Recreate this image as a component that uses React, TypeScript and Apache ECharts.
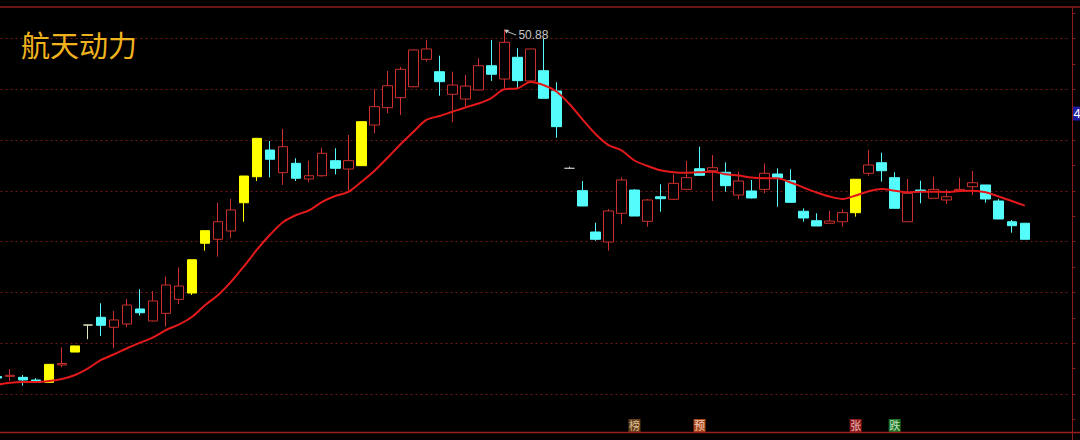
import React, { useEffect, useRef } from "react";
import * as echarts from "echarts";

// ---- Data ----
const opens = [
  16.72, 16.74, 16.64, 16.38, 16.15, 17.86, 19.13, 21.79, 22.55, 21.57,
  21.89, 23.37, 22.19, 22.94, 24.32, 24.94, 29.84, 30.23, 31.05, 33.83,
  36.39, 39.02, 36.79, 37.71, 36.17, 36.49, 37.97, 37.15, 37.48, 41.48,
  43.19, 44.17, 45.25, 47.95, 46.73, 44.51, 44.04, 44.93, 47.32, 46.01,
  48.15, 45.82, 46.83, 44.83, 37.22, 35.02, 30.95, 29.96, 32.79, 35.08,
  32.0, 34.42, 34.17, 35.15, 37.18, 36.98, 36.83, 34.59, 34.99, 35.15,
  36.66, 36.0, 32.99, 32.06, 31.81, 31.96, 32.85, 36.73, 37.77, 36.3,
  31.96, 35.08, 34.27, 34.1, 35.02, 35.41, 35.58, 34.0, 31.96, 31.81,
];
const closes = [
  16.57, 16.84, 16.38, 16.15, 17.92, 18.0, 19.73, 21.79, 21.76, 22.29,
  23.76, 23.0, 24.16, 25.73, 25.63, 28.22, 31.08, 31.96, 33.12, 36.46,
  40.17, 38.11, 39.35, 36.24, 36.49, 38.7, 37.22, 37.97, 41.81, 43.29,
  45.35, 46.97, 48.87, 48.97, 45.75, 45.42, 45.32, 47.32, 46.48, 49.63,
  45.85, 48.97, 44.11, 41.32, 37.22, 33.51, 30.23, 33.02, 36.07, 32.52,
  34.1, 34.23, 35.74, 36.3, 36.53, 37.28, 35.51, 35.97, 34.3, 36.73,
  36.3, 33.87, 32.33, 31.54, 32.03, 32.85, 36.14, 37.55, 36.98, 33.28,
  34.76, 34.96, 35.15, 34.42, 35.15, 35.8, 34.2, 32.23, 31.57, 30.23,
];
const lows = [
  16.48, 16.28, 15.82, 16.08, 16.15, 17.63, 19.13, 20.39, 20.71, 19.5,
  21.57, 22.71, 22.15, 21.63, 23.86, 24.75, 29.11, 28.52, 30.33, 31.96,
  35.97, 36.33, 35.58, 35.97, 35.84, 36.39, 36.63, 35.02, 37.48, 40.67,
  42.64, 42.47, 45.2, 47.72, 44.37, 41.75, 43.29, 44.9, 45.82, 45.1,
  45.1, 45.82, 44.11, 40.23, 37.22, 33.51, 30.09, 29.11, 31.71, 32.52,
  31.47, 32.95, 34.1, 35.15, 36.49, 34.0, 34.92, 34.17, 34.25, 34.76,
  33.44, 33.87, 31.96, 31.54, 31.81, 31.47, 32.46, 36.49, 35.9, 33.28,
  31.96, 33.77, 34.27, 33.71, 34.99, 34.59, 33.83, 32.23, 30.88, 30.23,
];
const highs = [
  16.87, 17.46, 16.87, 16.57, 17.92, 19.6, 19.73, 21.79, 23.93, 23.17,
  24.35, 25.31, 25.14, 26.55, 27.47, 28.22, 31.08, 33.83, 34.2, 36.46,
  40.17, 39.91, 41.09, 38.21, 37.97, 39.25, 39.19, 40.5, 41.81, 45.0,
  46.8, 47.22, 48.9, 49.85, 48.31, 46.73, 46.41, 48.05, 49.85, 50.88,
  49.04, 48.97, 50.02, 45.69, 37.4, 35.97, 31.86, 33.21, 36.33, 35.18,
  34.2, 35.65, 36.63, 37.94, 39.35, 38.53, 37.81, 36.89, 36.07, 37.71,
  37.22, 37.12, 33.28, 32.79, 33.02, 33.18, 36.14, 39.02, 38.76, 36.83,
  36.17, 36.0, 36.39, 35.15, 36.3, 36.95, 35.58, 34.2, 32.13, 31.84,
];
// u = up (hollow red), d = down (cyan), y = limit-up (yellow), w = white doji, g = grey doji
const kinds = [
  "d", "u", "d", "d", "y", "u", "y", "w", "d", "u",
  "u", "d", "u", "u", "u", "y", "y", "u", "u", "y",
  "y", "d", "u", "d", "u", "u", "d", "u", "y", "u",
  "u", "u", "u", "u", "d", "u", "u", "u", "d", "u",
  "d", "u", "d", "d", "g", "d", "d", "u", "u", "d",
  "u", "d", "u", "u", "d", "u", "d", "u", "d", "u",
  "d", "d", "d", "d", "u", "u", "y", "u", "d", "d",
  "u", "d", "u", "u", "u", "u", "d", "d", "d", "d",
];
const maValues = [
  15.89, 16.11, 16.18, 16.18, 16.28, 16.48, 16.87, 17.53, 18.35, 18.91,
  19.5, 20.05, 20.58, 21.3, 21.86, 22.61, 23.76, 24.75, 26.06, 27.6,
  29.23, 30.7, 31.93, 32.62, 33.09, 33.92, 34.49, 34.89, 35.87, 36.95,
  38.23, 39.56, 40.79, 41.98, 42.37, 42.79, 43.21, 43.6, 44.14, 45.01,
  45.08, 45.72, 45.42, 44.78, 43.55, 42.03, 40.6, 39.51, 38.99, 37.99,
  37.45, 37.02, 36.84, 36.79, 36.83, 36.89, 36.63, 36.51, 36.32, 36.25,
  36.24, 35.82, 35.33, 34.84, 34.44, 34.2, 34.54, 34.96, 35.18, 35.01,
  34.86, 34.92, 34.92, 34.89, 34.99, 35.02, 34.86, 34.44, 34.0, 33.54,
];
const EMPTY_SLOTS = 3;
const categories = Array.from({ length: opens.length + EMPTY_SLOTS }, (_, i) => String(i + 1));

const markerIndex = [49, 54, 66, 69];
const markerText = ["榜", "预", "张", "跌"];
const markerBg = ["#7d4c1e", "#d4561e", "#b52020", "#1f8f2a"];
const markerFg = ["#f6deb4", "#fff2e4", "#ffe2e2", "#eaffea"];
const MARKER_LEVEL = 11.9;

const TITLE = "航天动力";

// ---- Styles / layout ----
const RED = "#cc302c";
const CYAN = "#54fcfc";
const YELLOW = "#ffff00";
const WHITE_DOJI = "#e4e4c4";
const GREY_DOJI = "#bdbdbd";
const GRID_RED = "#721616";
const FRAME_RED = "#8e1c1c";
const PAD = 20; // chart div is shifted by -PAD so the plot may start left/above the page edge
const W = 1080 + PAD;
const H = 440 + 2 * PAD;

function styleFor(kind: string) {
  if (kind === "u") return { color: "#000000", color0: "#000000", borderColor: RED, borderColor0: RED };
  if (kind === "d") return { color: CYAN, color0: CYAN, borderColor: CYAN, borderColor0: CYAN };
  if (kind === "y") return { color: YELLOW, color0: YELLOW, borderColor: YELLOW, borderColor0: YELLOW };
  if (kind === "w") return { color: WHITE_DOJI, color0: WHITE_DOJI, borderColor: WHITE_DOJI, borderColor0: WHITE_DOJI };
  return { color: GREY_DOJI, color0: GREY_DOJI, borderColor: GREY_DOJI, borderColor0: GREY_DOJI };
}

export default function App() {
  const ref = useRef<HTMLDivElement>(null);

  useEffect(() => {
    document.body.style.margin = "0";
    document.body.style.background = "#000";
    document.body.style.overflow = "hidden";
    document.documentElement.style.overflow = "hidden";
    if (!ref.current) return;
    const chart = echarts.init(ref.current, undefined, { renderer: "svg" });

    const candleData = opens.map((o, i) => ({
      value: [o, closes[i], lows[i], highs[i]],
      itemStyle: styleFor(kinds[i]),
    }));

    const markerData = markerIndex.map((idx, i) => ({
      name: markerText[i],
      value: [idx, MARKER_LEVEL],
      itemStyle: { color: markerBg[i] },
      label: { color: markerFg[i] },
    }));

    const option: any = {
      animation: false,
      backgroundColor: "#000000",
      title: {
        text: TITLE,
        left: 16 + PAD,
        top: 24 + PAD,
        textStyle: {
          color: "#f0b31e",
          fontSize: 29,
          fontWeight: "normal",
          fontFamily: '"Noto Sans CJK SC", sans-serif',
        },
      },
      grid: { left: 10.5, right: 9.7, top: 7.715, bottom: H - (444.78 + PAD) },
      xAxis: {
        type: "category",
        data: categories,
        boundaryGap: true,
        axisLine: { show: false },
        axisTick: { show: false },
        axisLabel: { show: false },
        splitLine: { show: false },
      },
      yAxis: {
        type: "value",
        position: "right",
        offset: 2,
        min: 10,
        max: 55,
        interval: 5,
        axisLine: { show: false },
        axisLabel: { show: false },
        axisTick: { show: true, length: 3, lineStyle: { color: FRAME_RED } },
        minorTick: { show: true, splitNumber: 2, length: 3, lineStyle: { color: FRAME_RED } },
        splitLine: { show: true, lineStyle: { color: GRID_RED, type: [2, 3], width: 1 } },
      },
      series: [
        {
          type: "candlestick",
          data: candleData,
          barWidth: 10,
          itemStyle: { borderWidth: 1 },
          z: 2,
          markPoint: {
            symbol: "path://M0,0 L5,0.4 L3.4,1.7 L12,5.2 L11.6,6 L3,2.5 L2.2,4.2 Z",
            symbolSize: [12, 6],
            symbolOffset: [6, 3],
            itemStyle: { color: "#c8c8c8" },
            label: {
              show: true,
              position: "right",
              distance: 2,
              offset: [0, 2],
              color: "#c4c4c4",
              fontSize: 12,
              fontFamily: '"Liberation Sans", Arial, sans-serif',
              formatter: (p: any) => Number(p.value).toFixed(2),
            },
            data: [{ type: "max", valueDim: "highest" }],
          },
        },
        {
          type: "line",
          data: maValues,
          smooth: 0.3,
          symbol: "none",
          lineStyle: { color: "#e3191b", width: 2 },
          z: 3,
        },
        {
          type: "scatter",
          data: markerData,
          symbol: "rect",
          symbolSize: [12, 13],
          label: {
            show: true,
            position: "inside",
            formatter: "{b}",
            fontSize: 11,
            fontFamily: '"Noto Sans CJK SC", sans-serif',
          },
          z: 4,
        },
      ],
      graphic: [
        { type: "line", z: 10, shape: { x1: PAD, y1: 7 + PAD, x2: W, y2: 7 + PAD }, style: { stroke: FRAME_RED, lineWidth: 1.5 } },
        { type: "line", z: 10, shape: { x1: PAD, y1: 432.5 + PAD, x2: W, y2: 432.5 + PAD }, style: { stroke: "#9a1e1e", lineWidth: 1.5 } },
        { type: "line", z: 10, shape: { x1: 1072.5 + PAD, y1: 7 + PAD, x2: 1072.5 + PAD, y2: 440 + PAD }, style: { stroke: FRAME_RED, lineWidth: 1 } },
        { type: "rect", z: 11, shape: { x: 1073 + PAD, y: 106.5 + PAD, width: 7, height: 14 }, style: { fill: "#1c1ca0" } },
        {
          type: "text",
          z: 12,
          x: 1073.5 + PAD,
          y: 107 + PAD,
          style: { text: "4", fill: "#ffffff", fontSize: 13, fontFamily: '"Liberation Sans", Arial, sans-serif' },
        },
      ],
    };

    chart.setOption(option);
    return () => chart.dispose();
  }, []);

  return (
    <div
      ref={ref}
      style={{ position: "absolute", left: -PAD, top: -PAD, width: W, height: H, background: "#000" }}
    />
  );
}
